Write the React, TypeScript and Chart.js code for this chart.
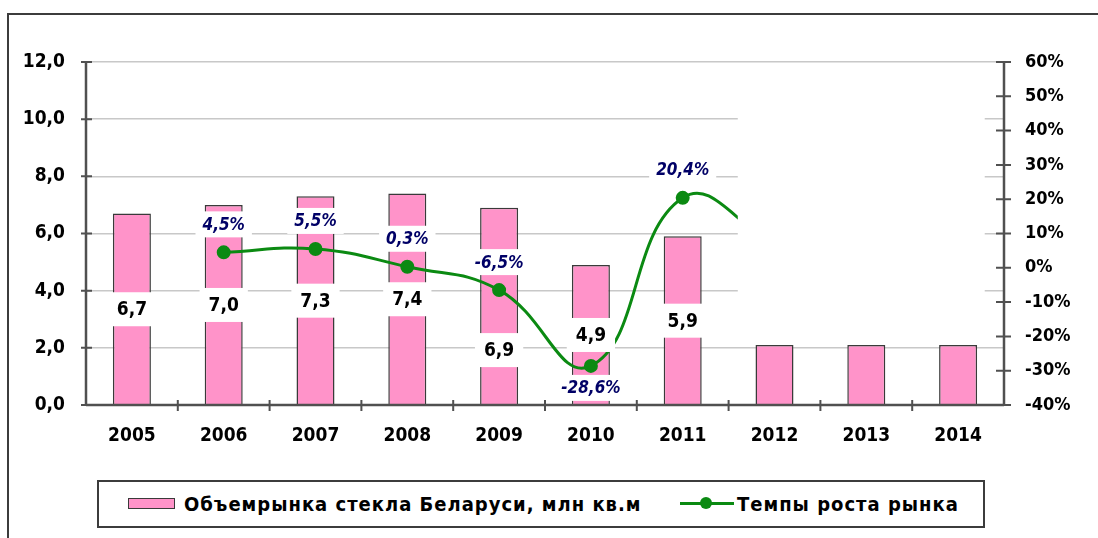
import React, { useEffect, useRef } from 'react';
import { Chart, registerables } from 'chart.js';

Chart.register(...registerables);

const years = ['2005', '2006', '2007', '2008', '2009', '2010', '2011', '2012', '2013', '2014'];
const marketVolume = [6.7, 7.0, 7.3, 7.4, 6.9, 4.9, 5.9, 2.1, 2.1, 2.1];
const volumeLabels = ['6,7', '7,0', '7,3', '7,4', '6,9', '4,9', '5,9', '', '', ''];
const growthRate: (number | null)[] = [null, 4.5, 5.5, 0.3, -6.5, -28.6, 20.4, 7.0, null, null];
const growthLabels = ['', '4,5%', '5,5%', '0,3%', '-6,5%', '-28,6%', '20,4%', '', '', ''];
const volumeName = 'Объемрынка стекла Беларуси, млн кв.м';
const growthName = 'Темпы роста рынка';

const FONT = "'DejaVu Sans Condensed', 'DejaVu Sans', sans-serif";
const PINK = '#ff93c9';
const GREEN = '#0b8a12';
const AXIS = '#505050';

const overlayPlugin = {
  id: 'overlay',
  afterDatasetsDraw(chart: any) {
    const { ctx, chartArea, scales } = chart;
    const x = scales.x;
    const y = scales.y;
    const y1 = scales.y1;
    ctx.save();

    // blank panel covering the right part of the plot
    const bx0 = x.getPixelForValue(6.6);
    const bx1 = x.getPixelForValue(9.29);
    const by0 = y.getPixelForValue(11.5);
    const by1 = y.getPixelForValue(2.6);
    ctx.fillStyle = '#ffffff';
    ctx.fillRect(bx0, by0, bx1 - bx0, by1 - by0);

    // axes
    ctx.strokeStyle = AXIS;
    ctx.lineWidth = 2.5;
    ctx.beginPath();
    ctx.moveTo(chartArea.left, chartArea.top);
    ctx.lineTo(chartArea.left, chartArea.bottom);
    ctx.moveTo(chartArea.right, chartArea.top);
    ctx.lineTo(chartArea.right, chartArea.bottom);
    ctx.moveTo(chartArea.left, chartArea.bottom);
    ctx.lineTo(chartArea.right, chartArea.bottom);
    ctx.stroke();
    ctx.lineWidth = 2;
    ctx.beginPath();
    for (let v = 0; v <= 12; v += 2) {
      const py = y.getPixelForValue(v);
      ctx.moveTo(chartArea.left - 5, py);
      ctx.lineTo(chartArea.left + 6, py);
    }
    for (let v = -40; v <= 60; v += 10) {
      const py = y1.getPixelForValue(v);
      ctx.moveTo(chartArea.right - 8, py);
      ctx.lineTo(chartArea.right + 7, py);
    }
    for (let i = 0; i < years.length - 1; i++) {
      const px = x.getPixelForValue(i + 0.5);
      ctx.moveTo(px, chartArea.bottom - 5);
      ctx.lineTo(px, chartArea.bottom + 6);
    }
    ctx.stroke();

    // bar value labels
    ctx.textAlign = 'center';
    ctx.textBaseline = 'middle';
    ctx.font = `bold 19px ${FONT}`;
    marketVolume.forEach((v, i) => {
      const txt = volumeLabels[i];
      if (!txt) return;
      const px = x.getPixelForValue(i);
      let py = y.getPixelForValue(v / 2);
      const g = growthRate[i];
      if (g !== null && g !== undefined) {
        const gy = y1.getPixelForValue(g);
        if (Math.abs(gy - py) < 25) py = gy + 60;
      }
      const w = ctx.measureText(txt).width + 18;
      ctx.fillStyle = '#ffffff';
      ctx.fillRect(px - w / 2, py - 17, w, 34);
      ctx.fillStyle = '#000000';
      ctx.fillText(txt, px, py + 1);
    });

    // growth labels
    ctx.font = `italic bold 17px ${FONT}`;
    growthRate.forEach((g, i) => {
      const txt = growthLabels[i];
      if (!txt || g === null) return;
      const px = x.getPixelForValue(i);
      const gy = y1.getPixelForValue(g);
      const prev = growthRate[i - 1];
      const next = growthRate[i + 1];
      const isMin = prev !== null && prev !== undefined && next !== null && next !== undefined && g < prev && g < next;
      const py = isMin ? gy + 22 : gy - 28;
      const w = ctx.measureText(txt).width + 14;
      ctx.fillStyle = '#ffffff';
      ctx.fillRect(px - w / 2, py - 13, w, 26);
      ctx.fillStyle = '#000066';
      ctx.fillText(txt, px, py + 1);
    });

    ctx.restore();
  },
};

export default function App() {
  const ref = useRef<HTMLCanvasElement | null>(null);

  useEffect(() => {
    if (!ref.current) return;
    const chart = new Chart(ref.current, {
      type: 'bar',
      data: {
        labels: years,
        datasets: [
          {
            type: 'line',
            label: growthName,
            data: growthRate,
            yAxisID: 'y1',
            borderColor: GREEN,
            backgroundColor: GREEN,
            borderWidth: 3,
            pointRadius: 5.5,
            pointBackgroundColor: GREEN,
            pointBorderColor: GREEN,
            tension: 0.45,
            order: 0,
          } as any,
          {
            type: 'bar',
            label: volumeName,
            data: marketVolume,
            yAxisID: 'y',
            backgroundColor: PINK,
            borderColor: '#3a3a3a',
            borderWidth: 1.5,
            barPercentage: 0.414,
            categoryPercentage: 1,
            order: 1,
          },
        ],
      },
      options: {
        responsive: false,
        animation: false,
        layout: { padding: { left: 0, right: 0, top: 62, bottom: 83 } },
        plugins: { legend: { display: false }, tooltip: { enabled: false } },
        scales: {
          x: {
            offset: true,
            grid: { display: false, drawTicks: false },
            border: { display: false },
            ticks: { color: '#000', padding: 20, font: { family: FONT, size: 19, weight: 'bold' } },
            afterFit: (s: any) => { s.height = 50; },
          },
          y: {
            position: 'left',
            min: 0,
            max: 12,
            grid: { color: '#c8c8c8', lineWidth: 1.5, drawTicks: false },
            border: { display: false },
            ticks: {
              stepSize: 2,
              color: '#000',
              padding: 21,
              font: { family: FONT, size: 19, weight: 'bold' },
              callback: (v: any) => Number(v).toFixed(1).replace('.', ','),
            },
            afterFit: (s: any) => { s.width = 86; },
          },
          y1: {
            position: 'right',
            min: -40,
            max: 60,
            grid: { display: false, drawTicks: false },
            border: { display: false },
            ticks: {
              stepSize: 10,
              color: '#000',
              padding: 21,
              font: { family: FONT, size: 18, weight: 'bold' },
              callback: (v: any) => `${v}%`,
            },
            afterFit: (s: any) => { s.width = 94; },
          },
        },
      },
      plugins: [overlayPlugin],
    } as any);
    return () => chart.destroy();
  }, []);

  const legendText: React.CSSProperties = {
    position: 'absolute',
    top: 0,
    height: 44,
    lineHeight: '44px',
    fontFamily: FONT,
    fontWeight: 'bold',
    fontSize: 20,
    letterSpacing: 1,
    color: '#000',
    whiteSpace: 'nowrap',
  };

  return (
    <div style={{ position: 'absolute', left: 0, top: 0, width: 1098, height: 538, overflow: 'hidden', background: '#fff' }}>
      <div style={{ position: 'absolute', left: 7, top: 13, width: 1300, height: 700, border: '2px solid #3c3c3c' }} />
      <canvas ref={ref} width={1098} height={538} style={{ position: 'absolute', left: 0, top: 0, width: 1098, height: 538 }} />
      <div style={{ position: 'absolute', left: 97, top: 480, width: 884, height: 44, border: '2px solid #3c3c3c', background: '#fff' }}>
        <div style={{ position: 'absolute', left: 29, top: 16, width: 45, height: 9, background: PINK, border: '1.5px solid #3a3a3a' }} />
        <div style={{ ...legendText, left: 85 }}>{volumeName}</div>
        <div style={{ position: 'absolute', left: 581, top: 20, width: 54, height: 3, background: GREEN }} />
        <div style={{ position: 'absolute', left: 601, top: 15, width: 12, height: 12, borderRadius: 6, background: GREEN }} />
        <div style={{ ...legendText, left: 638 }}>{growthName}</div>
      </div>
    </div>
  );
}
